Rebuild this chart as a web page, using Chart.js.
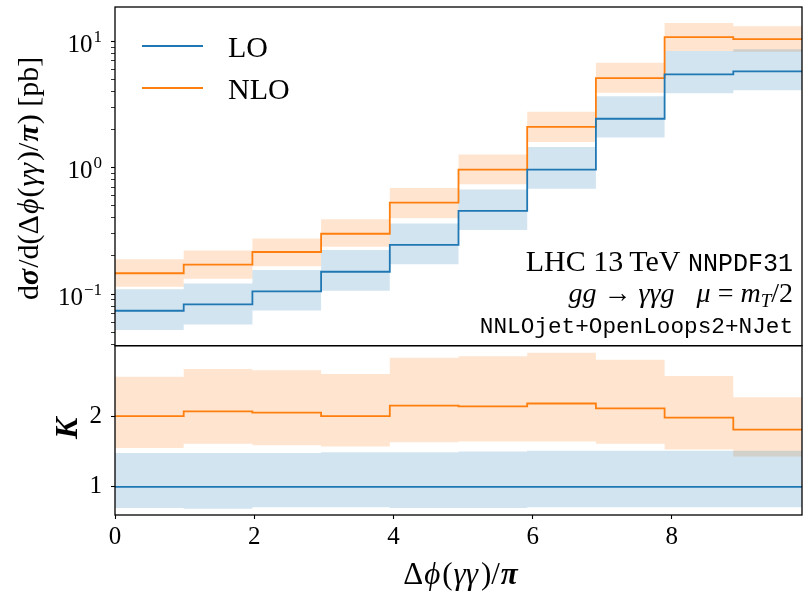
<!DOCTYPE html>
<html>
<head>
<meta charset="utf-8">
<script src="https://cdn.jsdelivr.net/npm/chart.js@4.4.1/dist/chart.umd.min.js"></script>
<style>
  html, body { margin: 0; padding: 0; background: #fff; }
  #wrap { width: 805px; height: 591px; }
</style>
</head>
<body>
<div id="wrap"><canvas id="chart" width="805" height="591"></canvas></div>
<script>
// bin edges in Δφ(γγ)/π (10 bins)
const binEdges = [0, 0.987, 1.974, 2.961, 3.948, 4.935, 5.922, 6.909, 7.896, 8.883, 9.870];

// upper panel, dσ/d(Δφ/π) in pb
const loCentral  = [0.0737, 0.0827, 0.105, 0.150, 0.245, 0.455, 0.964, 2.44, 5.48, 5.79];
const loUpper    = [0.109, 0.121, 0.155, 0.223, 0.362, 0.673, 1.46, 3.67, 8.38, 8.64];
const loLower    = [0.0518, 0.0574, 0.0741, 0.106, 0.172, 0.321, 0.682, 1.73, 3.88, 4.11];
const nloCentral = [0.146, 0.171, 0.215, 0.300, 0.528, 0.964, 2.10, 5.12, 10.8, 10.43];
const nloUpper   = [0.188, 0.221, 0.275, 0.390, 0.690, 1.27, 2.77, 6.78, 13.96, 13.15];
const nloLower   = [0.114, 0.132, 0.166, 0.237, 0.397, 0.738, 1.60, 3.92, 8.38, 8.28];

// lower panel, K factor
const kLo        = [1, 1, 1, 1, 1, 1, 1, 1, 1, 1];
const kLoUpper   = [1.48, 1.48, 1.48, 1.49, 1.49, 1.50, 1.51, 1.51, 1.51, 1.51];
const kLoLower   = [0.70, 0.69, 0.71, 0.71, 0.70, 0.70, 0.71, 0.71, 0.71, 0.71];
const kNlo       = [2.00, 2.07, 2.05, 2.00, 2.15, 2.14, 2.18, 2.11, 1.98, 1.81];
const kNloUpper  = [2.56, 2.67, 2.65, 2.60, 2.83, 2.85, 2.90, 2.80, 2.57, 2.27];
const kNloLower  = [1.55, 1.61, 1.59, 1.57, 1.63, 1.64, 1.64, 1.61, 1.53, 1.43];

// ticks
const xTicks = [0, 2, 4, 6, 8];
const yMajor = [0.1, 1, 10];
const yMajorExp = ['\u22121', '0', '1'];
const yMinor = [0.04, 0.05, 0.06, 0.07, 0.08, 0.09, 0.2, 0.3, 0.4, 0.5, 0.6, 0.7, 0.8, 0.9,
                2, 3, 4, 5, 6, 7, 8, 9];
const kTicks = [1, 2];
const legendLabels = ['LO', 'NLO'];

const BLUE = '#1f77b4';
const ORANGE = '#ff7f0e';
const BLUE_BAND = 'rgba(31,119,180,0.2)';
const ORANGE_BAND = 'rgba(255,127,14,0.2)';
const SERIF = "'Liberation Serif', 'Times New Roman', serif";
const MONO = "'Liberation Mono', 'DejaVu Sans Mono', monospace";
const fnt = (size, style) => (style ? style + ' ' : '') + size + 'px ' + SERIF;
const PHI = '\u03d5';

// step points: value of bin i held from edge i to edge i+1
function steps(vals) {
  return binEdges.map((x, i) => ({x: x, y: vals[Math.min(i, vals.length - 1)]}));
}

function line(vals, color, axis) {
  return {data: steps(vals), yAxisID: axis, borderColor: color, borderWidth: 1.8,
          stepped: 'before', pointRadius: 0, fill: false};
}
function edge(vals, axis) {
  return {data: steps(vals), yAxisID: axis, borderColor: 'transparent', borderWidth: 0,
          stepped: 'before', pointRadius: 0, fill: false};
}
function band(vals, axis, color, target) {
  return {data: steps(vals), yAxisID: axis, borderColor: 'transparent', borderWidth: 0,
          stepped: 'before', pointRadius: 0, fill: target, backgroundColor: color};
}

// draw a run of text pieces with different fonts
function rich(ctx, segs, x, y, align) {
  let w = 0;
  for (const s of segs) { ctx.font = s.f; s.w = ctx.measureText(s.t).width + (s.gap || 0); w += s.w; }
  let cx = align === 'right' ? x - w : align === 'center' ? x - w / 2 : x;
  for (const s of segs) { ctx.font = s.f; ctx.fillText(s.t, cx, y + (s.dy || 0)); cx += s.w; }
}

const decorations = {
  id: 'decorations',
  afterDraw(chart) {
    const {ctx, chartArea: ca, scales} = chart;
    const sy = scales.y, sk = scales.yK;
    ctx.save();
    ctx.fillStyle = '#000';
    ctx.textAlign = 'left';
    ctx.textBaseline = 'alphabetic';

    // panel frames
    ctx.strokeStyle = '#000';
    ctx.lineWidth = 1.3;
    for (const s of [sy, sk]) ctx.strokeRect(ca.left, s.top, ca.right - ca.left, s.bottom - s.top);

    // log tick labels 10^n
    yMajor.forEach((v, i) => {
      const py = sy.getPixelForValue(v);
      rich(ctx, [{t: '10', f: fnt(25), gap: 1}, {t: yMajorExp[i], f: fnt(17), dy: -10}], 102, py + 10.5, 'right');
    });

    // legend
    [BLUE, ORANGE].forEach((c, i) => {
      const ly = ca.top + 39 + i * 42;
      ctx.strokeStyle = c;
      ctx.lineWidth = 2;
      ctx.beginPath();
      ctx.moveTo(ca.left + 27, ly);
      ctx.lineTo(ca.left + 88, ly);
      ctx.stroke();
      ctx.font = fnt(30);
      ctx.fillText(legendLabels[i], ca.left + 113, ly + 11);
    });

    // annotation block
    const rx = ca.right - 9;
    rich(ctx, [{t: 'LHC 13\u2009TeV ', f: fnt(30)}, {t: 'NNPDF31', f: '25px ' + MONO}], rx, 271, 'right');
    rich(ctx, [
      {t: 'gg', f: fnt(28, 'italic')},
      {t: ' \u2192 ', f: fnt(28)},
      {t: '\u03b3\u03b3g', f: fnt(28, 'italic'), gap: 22},
      {t: '\u03bc', f: fnt(28, 'italic')},
      {t: ' = ', f: fnt(28)},
      {t: 'm', f: fnt(28, 'italic')},
      {t: 'T', f: fnt(19, 'italic'), dy: 5},
      {t: '/2', f: fnt(28)}
    ], rx, 302, 'right');
    ctx.font = '22.7px ' + MONO;
    ctx.textAlign = 'right';
    ctx.fillText('NNLOjet+OpenLoops2+NJet', rx, 333);
    ctx.textAlign = 'left';

    // y title upper
    ctx.save();
    ctx.translate(38, (sy.top + sy.bottom) / 2 + 2);
    ctx.rotate(-Math.PI / 2);
    rich(ctx, [
      {t: 'd', f: fnt(30)},
      {t: '\u03c3', f: fnt(30, 'italic bold'), gap: 1},
      {t: '/d(\u0394', f: fnt(30), gap: 1},
      {t: PHI, f: fnt(30, 'italic'), gap: 1},
      {t: '(', f: fnt(30), gap: 1},
      {t: '\u03b3\u03b3', f: fnt(30, 'italic'), gap: 2},
      {t: ')/', f: fnt(30), gap: 1},
      {t: '\u03c0', f: fnt(30, 'italic bold'), gap: 1},
      {t: ') [pb]', f: fnt(30)}
    ], 0, 0, 'center');
    ctx.restore();

    // K title
    ctx.save();
    ctx.translate(77, (sk.top + sk.bottom) / 2 - 2);
    ctx.rotate(-Math.PI / 2);
    rich(ctx, [{t: 'K', f: fnt(32, 'italic bold')}], 0, 0, 'center');
    ctx.restore();

    // x title
    rich(ctx, [
      {t: '\u0394', f: fnt(31), gap: 1},
      {t: PHI, f: fnt(31, 'italic'), gap: 2},
      {t: '(', f: fnt(31), gap: 1},
      {t: '\u03b3\u03b3', f: fnt(31, 'italic'), gap: 3},
      {t: ')/', f: fnt(31), gap: 1},
      {t: '\u03c0', f: fnt(31, 'italic bold')}
    ], (ca.left + ca.right) / 2 + 2, 584, 'center');

    ctx.restore();
  }
};

const tickFont = {family: 'Liberation Serif', size: 25};

new Chart(document.getElementById('chart'), {
  type: 'line',
  data: {
    datasets: [
      line(loCentral, BLUE, 'y'),
      line(nloCentral, ORANGE, 'y'),
      line(kLo, BLUE, 'yK'),
      line(kNlo, ORANGE, 'yK'),
      edge(loUpper, 'y'),
      band(loLower, 'y', BLUE_BAND, 4),
      edge(nloUpper, 'y'),
      band(nloLower, 'y', ORANGE_BAND, 6),
      edge(kLoUpper, 'yK'),
      band(kLoLower, 'yK', BLUE_BAND, 8),
      edge(kNloUpper, 'yK'),
      band(kNloLower, 'yK', ORANGE_BAND, 10)
    ]
  },
  options: {
    responsive: false,
    devicePixelRatio: 1,
    animation: false,
    events: [],
    layout: {padding: {top: 7, right: 3, left: 0, bottom: 0}},
    plugins: {legend: {display: false}, tooltip: {enabled: false}},
    scales: {
      x: {
        type: 'linear',
        min: binEdges[0],
        max: binEdges[binEdges.length - 1],
        afterBuildTicks: s => { s.ticks = xTicks.map(v => ({value: v})); },
        afterFit: s => { s.height = 76; s.paddingLeft = 0; s.paddingRight = 0; },
        border: {display: false},
        grid: {drawOnChartArea: false, tickLength: 4, tickColor: '#000', tickWidth: 1.1},
        ticks: {font: tickFont, color: '#000', padding: 3, maxRotation: 0, autoSkip: false}
      },
      y: {
        type: 'logarithmic',
        position: 'left',
        stack: 'panels',
        stackWeight: 2,
        weight: 1,
        min: 0.039,
        max: 18.7,
        afterBuildTicks: s => { s.ticks = yMinor.concat(yMajor).map(v => ({value: v})); },
        afterFit: s => { s.width = 115; s.paddingTop = 0; s.paddingBottom = 0; },
        border: {display: false},
        grid: {drawOnChartArea: false, tickLength: 4, tickColor: '#000',
               tickWidth: c => (yMajor.includes(c.tick.value) ? 1.1 : 0.8)},
        ticks: {display: false, autoSkip: false}
      },
      yK: {
        type: 'linear',
        position: 'left',
        stack: 'panels',
        stackWeight: 1,
        weight: 0,
        min: 0.6,
        max: 3.0,
        afterBuildTicks: s => { s.ticks = kTicks.map(v => ({value: v})); },
        afterFit: s => { s.width = 115; s.paddingTop = 0; s.paddingBottom = 0; },
        border: {display: false},
        grid: {drawOnChartArea: false, tickLength: 4, tickColor: '#000', tickWidth: 1.1},
        ticks: {font: tickFont, color: '#000', padding: 9, autoSkip: false}
      }
    }
  },
  plugins: [decorations]
});
</script>
</body>
</html>
